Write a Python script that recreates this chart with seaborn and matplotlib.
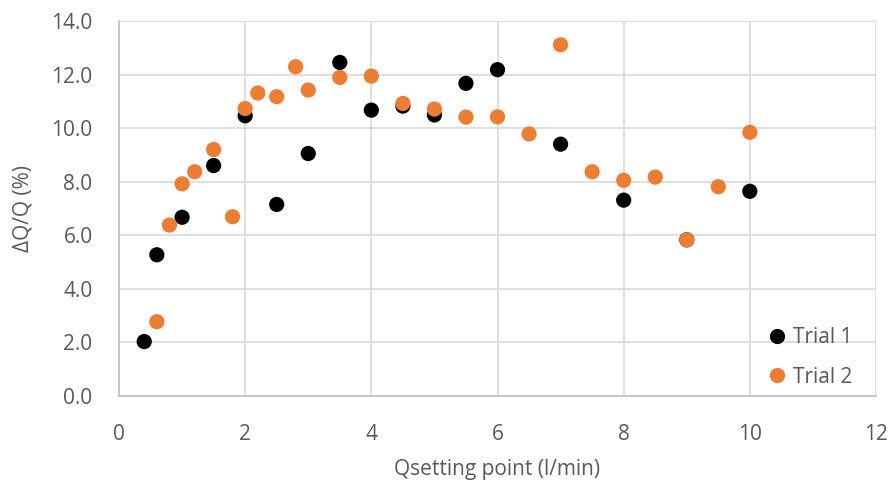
import matplotlib
matplotlib.use("Agg")
import matplotlib.pyplot as plt
import seaborn as sns
import pandas as pd

# Trial 1 (noir)
x_trial1 = [0.4, 0.6, 1.0, 1.5, 2.0, 2.5, 3.0, 3.5, 4.0, 4.5, 5.0, 5.5, 6.0, 7.0, 8.0, 9.0, 10.0]
y_trial1 = [2.03, 5.27, 6.67, 8.6, 10.46, 7.15, 9.05, 12.45, 10.67, 10.82, 10.49, 11.67, 12.18, 9.40, 7.31, 5.83, 7.64]

# Trial 2 (orange)
x_trial2 = [0.6, 0.8, 1.0, 1.2, 1.5, 1.8, 2.0, 2.2, 2.5, 2.8, 3.0, 3.5, 4.0, 4.5, 5.0,
            5.5, 6.0, 6.5, 7.0, 7.5, 8.0, 8.5, 9.0, 9.5, 10.0]
y_trial2 = [2.77, 6.38, 7.92, 8.37, 9.2, 6.69, 10.73, 11.31, 11.17, 12.29, 11.42, 11.89, 11.94, 10.92, 10.71,
            10.41, 10.42, 9.78, 13.11, 8.37, 8.05, 8.17, 5.83, 7.81, 9.84]

df = pd.concat([
    pd.DataFrame({"x": x_trial1, "y": y_trial1, "serie": "Trial 1"}),
    pd.DataFrame({"x": x_trial2, "y": y_trial2, "serie": "Trial 2"}),
], ignore_index=True)

sns.set_style("white")
plt.rcParams["font.family"] = ["Open Sans", "DejaVu Sans"]

txt = "#595959"
grid_col = "#D9D9D9"
fs = 15

fig = plt.figure(figsize=(8.88, 4.87), dpi=100)
ax = fig.add_axes([0.134, 0.187, 0.8525, 0.77])

sns.scatterplot(data=df, x="x", y="y", hue="serie",
                palette={"Trial 1": "black", "Trial 2": "#ED7D31"},
                s=120, edgecolor="none", ax=ax, zorder=3)

ax.set_xlim(0, 12)
ax.set_ylim(0, 14)
ax.set_xticks(range(0, 13, 2))
ax.set_yticks([i * 2.0 for i in range(8)])
ax.set_yticklabels([f"{i * 2:.1f}" for i in range(8)])
ax.grid(True, color=grid_col, linewidth=1.2, zorder=0)
ax.set_axisbelow(True)
for side in ["top", "right"]:
    ax.spines[side].set_visible(False)
for side in ["left", "bottom"]:
    ax.spines[side].set_color("#BFBFBF")
    ax.spines[side].set_linewidth(1.2)

ax.tick_params(axis="both", colors=txt, labelsize=fs, length=0)
ax.tick_params(axis="x", pad=20)
ax.tick_params(axis="y", pad=19)
ax.set_xlabel("Qsetting point (l/min)", color=txt, fontsize=fs, va="center")
ax.set_ylabel("ΔQ/Q (%)", color=txt, fontsize=fs, va="center")
ax.xaxis.set_label_coords(0.5, -0.195)
ax.yaxis.set_label_coords(-0.127, 0.5)

ax.legend(loc="center left", bbox_to_anchor=(0.844, 0.103), frameon=False,
          fontsize=fs, labelcolor=txt, handlelength=1.0, handletextpad=0.27,
          borderaxespad=0, labelspacing=0.9)

fig.savefig("out.png", dpi=100)
